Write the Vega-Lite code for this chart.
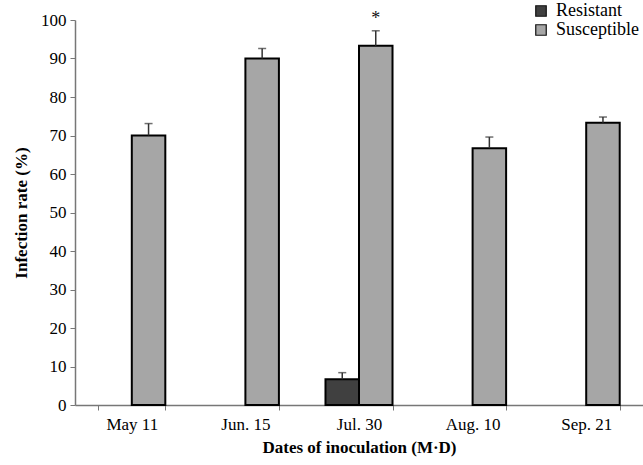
{
  "$schema": "https://vega.github.io/schema/vega-lite/v6.json",
  "width": 568,
  "height": 385,
  "autosize": {"type": "none"},
  "padding": {"left": 75, "top": 20, "right": 0, "bottom": 60},
  "background": "white",
  "config": {
    "view": {"stroke": null},
    "font": "Liberation Serif",
    "axisY": {
      "titleFont": "Liberation Serif",
      "titleFontSize": 17,
      "titleFontWeight": "bold",
      "titleColor": "#000",
      "titlePadding": 10,
      "labelFont": "Liberation Serif",
      "labelFontSize": 17,
      "labelColor": "#000",
      "labelOverlap": false,
      "values": [0, 10, 20, 30, 40, 50, 60, 70, 80, 90, 100],
      "grid": false,
      "tickSize": 5,
      "tickColor": "#777",
      "domainColor": "#777",
      "domainWidth": 1.5,
      "labelPadding": 4
    }
  },
  "data": {
    "values": [
      {"date": "May 11", "group": "Susceptible", "value": 70.0, "upper": 73.1, "mark": ""},
      {"date": "Jun. 15", "group": "Susceptible", "value": 90.0, "upper": 92.6, "mark": ""},
      {"date": "Jul. 30", "group": "Resistant", "value": 6.7, "upper": 8.4, "mark": ""},
      {"date": "Jul. 30", "group": "Susceptible", "value": 93.3, "upper": 97.2, "mark": "*"},
      {"date": "Aug. 10", "group": "Susceptible", "value": 66.7, "upper": 69.6, "mark": ""},
      {"date": "Sep. 21", "group": "Susceptible", "value": 73.3, "upper": 74.8, "mark": ""}
    ]
  },
  "encoding": {
    "x": {
      "field": "date",
      "type": "nominal",
      "sort": ["May 11", "Jun. 15", "Jul. 30", "Aug. 10", "Sep. 21"],
      "scale": {"paddingInner": 0.41, "paddingOuter": 0.205},
      "axis": {
        "title": "Dates of inoculation (M·D)",
        "titleFont": "Liberation Serif",
        "titleFontSize": 17,
        "titleFontWeight": "bold",
        "titleColor": "#000",
        "titlePadding": 7,
        "labelFont": "Liberation Serif",
        "labelFontSize": 17,
        "labelColor": "#000",
        "labelAngle": 0,
        "labelPadding": 6,
        "tickBand": "extent",
        "tickSize": 5,
        "tickColor": "#777",
        "domainColor": "#777",
        "domainWidth": 1.5
      }
    },
    "xOffset": {"field": "group", "type": "nominal", "sort": ["Resistant", "Susceptible"], "scale": {"paddingInner": 0, "paddingOuter": 0}}
  },
  "layer": [
    {
      "mark": {"type": "bar", "stroke": "#000", "strokeWidth": 2},
      "encoding": {
        "y": {
          "field": "value",
          "type": "quantitative",
          "title": "Infection rate (%)",
          "scale": {"domain": [0, 100], "nice": false}
        },
        "fill": {
          "field": "group",
          "type": "nominal",
          "scale": {"domain": ["Resistant", "Susceptible"], "range": ["#404040", "#a6a6a6"]},
          "legend": {
            "title": null,
            "orient": "none",
            "legendX": 457,
            "legendY": -18,
            "symbolType": "square",
            "symbolSize": 110,
            "symbolStrokeColor": "#111",
            "symbolStrokeWidth": 1.2,
            "labelFont": "Liberation Serif",
            "labelFontSize": 18,
            "labelColor": "#000",
            "labelOffset": 6,
            "rowPadding": 1
          }
        }
      }
    },
    {
      "mark": {"type": "rule", "stroke": "#333", "strokeWidth": 1.5},
      "encoding": {
        "y": {"field": "value", "type": "quantitative", "title": "Infection rate (%)"},
        "y2": {"field": "upper"}
      }
    },
    {
      "mark": {"type": "tick", "orient": "horizontal", "color": "#333", "size": 8, "thickness": 1.5},
      "encoding": {
        "y": {"field": "upper", "type": "quantitative", "title": "Infection rate (%)"}
      }
    },
    {
      "mark": {"type": "text", "fontSize": 18, "font": "Liberation Serif", "color": "#111", "baseline": "middle", "dy": -12},
      "encoding": {
        "y": {"field": "upper", "type": "quantitative", "title": "Infection rate (%)"},
        "text": {"field": "mark"}
      }
    }
  ]
}
